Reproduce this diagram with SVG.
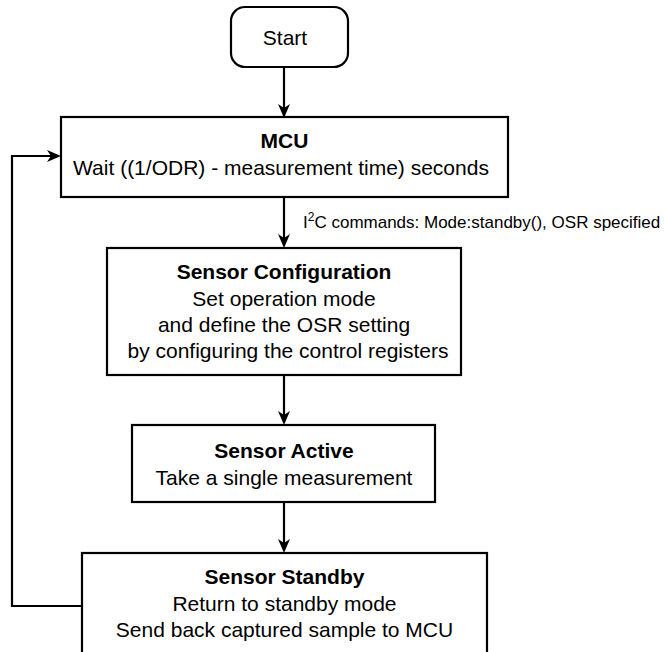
<svg xmlns="http://www.w3.org/2000/svg" width="665" height="652" viewBox="0 0 665 652">
<defs>
<style>
.box{fill:#fff;stroke:#000;stroke-width:2.2}
.t{font-family:"Liberation Sans",Arial,Helvetica,sans-serif;font-size:21px;fill:#000;text-anchor:middle}
.b{font-weight:bold}
.lbl{font-family:"Liberation Sans",Arial,Helvetica,sans-serif;font-size:17px;fill:#000}
.c{fill:none;stroke:#000;stroke-width:2.2}
</style>
<marker id="ah" viewBox="0 0 14 12" refX="9" refY="6" markerWidth="14" markerHeight="12" markerUnits="userSpaceOnUse" orient="auto">
<path d="M0,0 L14,6 L0,12 L4,6 z" fill="#000"/>
</marker>
</defs>
<rect width="665" height="652" fill="#fff"/>
<g id="connectors">
<line class="c" x1="284" y1="67" x2="284" y2="113" marker-end="url(#ah)"/>
<line class="c" x1="284" y1="197" x2="284" y2="243" marker-end="url(#ah)"/>
<line class="c" x1="284" y1="375" x2="284" y2="420" marker-end="url(#ah)"/>
<line class="c" x1="284" y1="502" x2="284" y2="548" marker-end="url(#ah)"/>
<polyline class="c" points="82,606 12,606 12,156 56,156" marker-end="url(#ah)"/>
<text class="lbl" x="303" y="228">I<tspan font-size="12" dy="-7">2</tspan><tspan dy="7">C commands: Mode:standby(), OSR specified</tspan></text>
</g>
<g id="start">
<rect class="box" x="231" y="7" width="117" height="60" rx="14" ry="14"/>
<text class="t" x="285" y="45">Start</text>
</g>
<g id="mcu">
<rect class="box" x="61" y="117" width="447" height="80"/>
<text class="t b" x="284.5" y="148">MCU</text>
<text class="t" x="281" y="175">Wait ((1/ODR) - measurement time) seconds</text>
</g>
<g id="sensor-configuration">
<rect class="box" x="107" y="248" width="354" height="127"/>
<text class="t b" x="284" y="279">Sensor Configuration</text>
<text class="t" x="284" y="306">Set operation mode</text>
<text class="t" x="284" y="332">and define the OSR setting</text>
<text class="t" x="288" y="358">by configuring the control registers</text>
</g>
<g id="sensor-active">
<rect class="box" x="132" y="425" width="303" height="77"/>
<text class="t b" x="284" y="458">Sensor Active</text>
<text class="t" x="284" y="485">Take a single measurement</text>
</g>
<g id="sensor-standby">
<rect class="box" x="82" y="553" width="405" height="110"/>
<text class="t b" x="284.5" y="584">Sensor Standby</text>
<text class="t" x="284.5" y="611">Return to standby mode</text>
<text class="t" x="284.5" y="637">Send back captured sample to MCU</text>
</g>
</svg>
